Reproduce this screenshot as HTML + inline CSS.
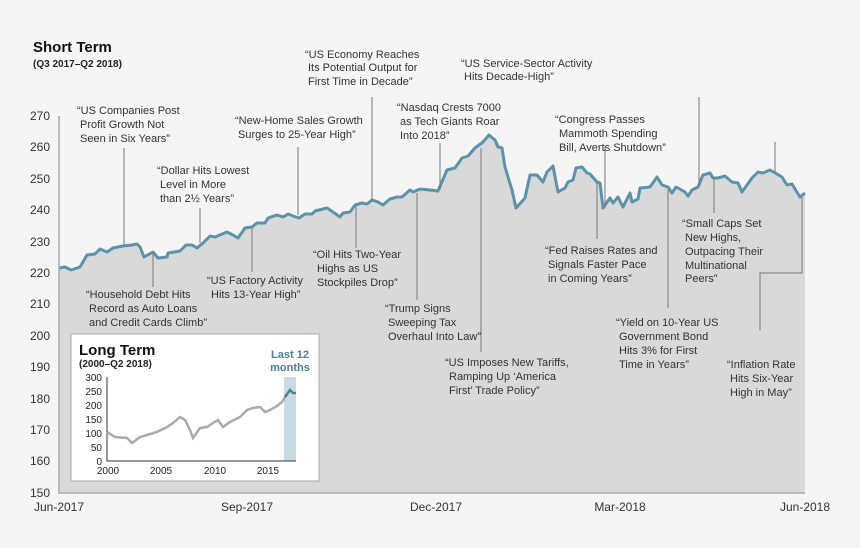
<!DOCTYPE html>
<html><head><meta charset="utf-8"><style>
body{margin:0;background:#f5f5f5}
svg{display:block;font-family:"Liberation Sans",sans-serif}
.a{font-size:11px;fill:#333}
.t{font-size:12px;fill:#333}
.l{stroke:#777;stroke-width:1;fill:none}
</style></head><body>
<svg width="860" height="548" viewBox="0 0 860 548">
<rect width="860" height="548" fill="#f5f5f5"/>
<text x="33" y="52" font-size="15" font-weight="bold" fill="#111">Short Term</text>
<text x="33" y="67" font-size="10" font-weight="bold" fill="#222">(Q3 2017–Q2 2018)</text>
<path d="M59,493 L59,268 L65,267 L71,270 L80,267 L87,255 L95,254 L100,249 L107,252 L113,248 L123,246 L132,245 L137,244 L140,247 L144,257 L153,252 L158,258 L167,257 L168,253 L180,251 L186,245 L192,245 L197,248 L203,243 L210,236 L215,237 L227,232 L233,235 L238,238 L245,228 L252,227 L257,223 L265,223 L268,218 L277,215 L283,217 L288,214 L293,216 L299,218 L305,214 L312,214 L315,211 L327,208 L333,212 L340,217 L343,213 L350,212 L355,205 L362,203 L367,204 L372,200 L378,202 L383,205 L390,199 L397,197 L402,197 L410,190 L413,192 L420,189 L430,190 L438,191 L447,170 L455,168 L462,158 L468,156 L475,148 L483,142 L489,135 L495,140 L498,147 L502,148 L505,167 L512,190 L516,208 L525,198 L530,175 L537,175 L543,182 L547,172 L553,166 L558,192 L565,188 L568,182 L573,180 L576,168 L582,167 L587,173 L590,174 L597,182 L600,183 L603,208 L610,198 L613,203 L618,197 L623,207 L630,193 L632,202 L638,199 L640,188 L650,187 L657,177 L662,185 L668,187 L672,193 L676,187 L685,192 L688,196 L692,190 L698,187 L703,175 L710,173 L713,178 L718,178 L725,176 L732,182 L738,183 L742,192 L747,185 L752,178 L758,172 L763,173 L770,170 L777,174 L782,177 L787,185 L792,184 L795,189 L800,197 L805,193 L805,493 Z" fill="#d9d9d9"/>
<path d="M59,268 L65,267 L71,270 L80,267 L87,255 L95,254 L100,249 L107,252 L113,248 L123,246 L132,245 L137,244 L140,247 L144,257 L153,252 L158,258 L167,257 L168,253 L180,251 L186,245 L192,245 L197,248 L203,243 L210,236 L215,237 L227,232 L233,235 L238,238 L245,228 L252,227 L257,223 L265,223 L268,218 L277,215 L283,217 L288,214 L293,216 L299,218 L305,214 L312,214 L315,211 L327,208 L333,212 L340,217 L343,213 L350,212 L355,205 L362,203 L367,204 L372,200 L378,202 L383,205 L390,199 L397,197 L402,197 L410,190 L413,192 L420,189 L430,190 L438,191 L447,170 L455,168 L462,158 L468,156 L475,148 L483,142 L489,135 L495,140 L498,147 L502,148 L505,167 L512,190 L516,208 L525,198 L530,175 L537,175 L543,182 L547,172 L553,166 L558,192 L565,188 L568,182 L573,180 L576,168 L582,167 L587,173 L590,174 L597,182 L600,183 L603,208 L610,198 L613,203 L618,197 L623,207 L630,193 L632,202 L638,199 L640,188 L650,187 L657,177 L662,185 L668,187 L672,193 L676,187 L685,192 L688,196 L692,190 L698,187 L703,175 L710,173 L713,178 L718,178 L725,176 L732,182 L738,183 L742,192 L747,185 L752,178 L758,172 L763,173 L770,170 L777,174 L782,177 L787,185 L792,184 L795,189 L800,197 L805,193" fill="none" stroke="#5b93ab" stroke-width="3" stroke-linejoin="round"/>
<path d="M59,116 L59,493 L805,493" stroke="#aaa" stroke-width="1.5" fill="none"/>
<g class="l">
<path d="M124,148V246"/><path d="M200,208V243"/><path d="M153,252V287"/><path d="M298,147V215"/><path d="M252,228V272"/><path d="M372,97V200"/><path d="M356,205V248"/><path d="M417,193V300"/><path d="M440,143V190"/><path d="M481,148V352"/><path d="M605,147V208"/><path d="M597,182V239"/><path d="M699,97V185"/><path d="M668,190V308"/><path d="M714,178V213"/><path d="M775,142V172"/><path d="M802,197V273H760V330"/>
</g>
<g class="t" text-anchor="end">
<text x="50" y="120">270</text><text x="50" y="151">260</text><text x="50" y="183">250</text><text x="50" y="214">240</text><text x="50" y="246">230</text><text x="50" y="277">220</text><text x="50" y="308">210</text><text x="50" y="340">200</text><text x="50" y="371">190</text><text x="50" y="403">180</text><text x="50" y="434">170</text><text x="50" y="465">160</text><text x="50" y="497">150</text>
</g>
<g class="t" text-anchor="middle">
<text x="59" y="511">Jun-2017</text><text x="247" y="511">Sep-2017</text><text x="436" y="511">Dec-2017</text><text x="620" y="511">Mar-2018</text><text x="805" y="511">Jun-2018</text>
</g>
<g class="a">
<text x="77" y="114">“US Companies Post</text><text x="80" y="128">Profit Growth Not</text><text x="80" y="142">Seen in Six Years”</text>
<text x="305" y="58">“US Economy Reaches</text><text x="308" y="71">Its Potential Output for</text><text x="308" y="85">First Time in Decade”</text>
<text x="235" y="124">“New-Home Sales Growth</text><text x="238" y="138">Surges to 25-Year High”</text>
<text x="157" y="174">“Dollar Hits Lowest</text><text x="160" y="188">Level in More</text><text x="160" y="202">than 2½ Years”</text>
<text x="397" y="111">“Nasdaq Crests 7000</text><text x="400" y="125">as Tech Giants Roar</text><text x="400" y="139">Into 2018”</text>
<text x="461" y="67">“US Service-Sector Activity</text><text x="464" y="80">Hits Decade-High”</text>
<text x="555" y="123">“Congress Passes</text><text x="559" y="137">Mammoth Spending</text><text x="559" y="151">Bill, Averts Shutdown”</text>
<text x="86" y="298">“Household Debt Hits</text><text x="89" y="312">Record as Auto Loans</text><text x="89" y="326">and Credit Cards Climb”</text>
<text x="207" y="284">“US Factory Activity</text><text x="211" y="298">Hits 13-Year High”</text>
<text x="313" y="258">“Oil Hits Two-Year</text><text x="317" y="272">Highs as US</text><text x="317" y="286">Stockpiles Drop”</text>
<text x="385" y="312">“Trump Signs</text><text x="388" y="326">Sweeping Tax</text><text x="388" y="340">Overhaul Into Law”</text>
<text x="445" y="366">“US Imposes New Tariffs,</text><text x="449" y="380">Ramping Up ‘America</text><text x="449" y="394">First’ Trade Policy”</text>
<text x="545" y="254">“Fed Raises Rates and</text><text x="548" y="268">Signals Faster Pace</text><text x="548" y="282">in Coming Years”</text>
<text x="682" y="227">“Small Caps Set</text><text x="685" y="241">New Highs,</text><text x="685" y="255">Outpacing Their</text><text x="685" y="269">Multinational</text><text x="685" y="282">Peers”</text>
<text x="616" y="326">“Yield on 10-Year US</text><text x="619" y="340">Government Bond</text><text x="619" y="354">Hits 3% for First</text><text x="619" y="368">Time in Years”</text>
<text x="727" y="368">“Inflation Rate</text><text x="730" y="382">Hits Six-Year</text><text x="730" y="396">High in May”</text>
</g>
<rect x="71" y="334" width="248" height="147" fill="#fff" stroke="#aaa" stroke-width="1"/>
<text x="79" y="355" font-size="15" font-weight="bold" fill="#111">Long Term</text>
<text x="79" y="367" font-size="10" font-weight="bold" fill="#222">(2000–Q2 2018)</text>
<text x="290" y="358" font-size="11" font-weight="bold" fill="#4a7f99" text-anchor="middle">Last 12</text>
<text x="290" y="371" font-size="11" font-weight="bold" fill="#4a7f99" text-anchor="middle">months</text>
<rect x="284" y="377" width="12" height="84" fill="#c8dbe4"/>
<path d="M107,377V461H296" stroke="#333" stroke-width="1" fill="none"/>
<g font-size="10" fill="#222" text-anchor="end">
<text x="102" y="381">300</text><text x="102" y="395">250</text><text x="102" y="409">200</text><text x="102" y="423">150</text><text x="102" y="437">100</text><text x="102" y="451">50</text><text x="102" y="465">0</text>
</g>
<g font-size="10" fill="#222" text-anchor="middle">
<text x="108" y="474">2000</text><text x="161" y="474">2005</text><text x="215" y="474">2010</text><text x="268" y="474">2015</text>
</g>
<path d="M107,432 L115,437 L127,438 L132,443 L140,437 L147,435 L157,432 L167,427 L173,423 L180,417 L185,420 L190,430 L193,438 L200,428 L207,427 L213,423 L218,420 L223,427 L230,422 L240,417 L247,410 L253,408 L260,407 L265,412 L270,410 L277,406 L282,402 L285,397" fill="none" stroke="#aaa" stroke-width="2.5"/>
<path d="M285,397 L290,390 L293,393 L296,393" fill="none" stroke="#4a7f99" stroke-width="2.5"/>
</svg>
</body></html>
